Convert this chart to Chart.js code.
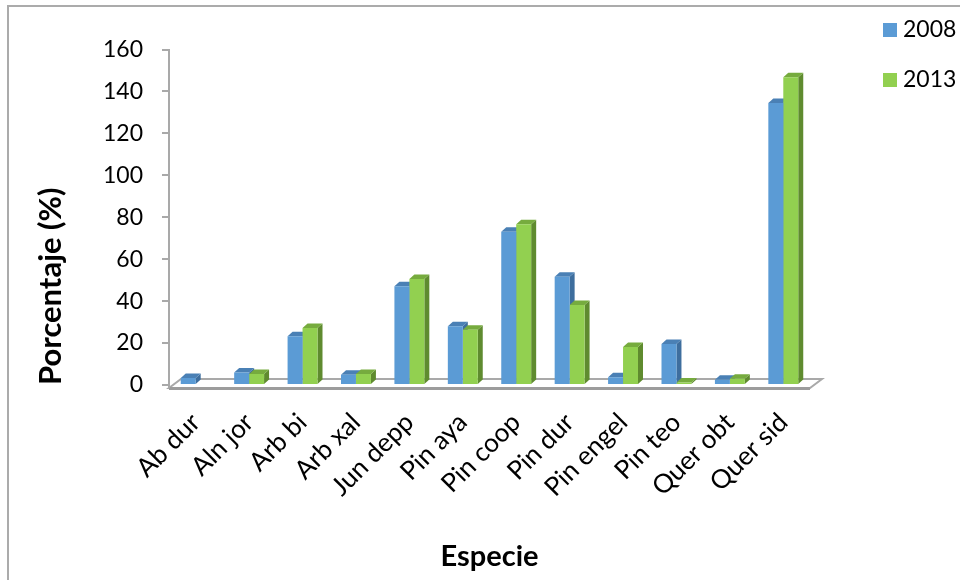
<!DOCTYPE html>
<html>
<head>
<meta charset="utf-8">
<script src="https://cdn.jsdelivr.net/npm/chart.js@4.4.1/dist/chart.umd.min.js"></script>
<style>
  html, body { margin: 0; padding: 0; background: #fff; overflow: hidden; width: 960px; height: 580px; }
  #frame { position: absolute; left: 7px; top: 5px; width: 990px; height: 590px; border: 2px solid #ababab; background: #fff; }
  canvas { display: block; }
</style>
</head>
<body>
<div id="frame"><canvas id="chart" width="990" height="590"></canvas></div>
<script>
// Species and their percentage per survey year
const categories = ['Ab dur', 'Aln jor', 'Arb bi', 'Arb xal', 'Jun depp', 'Pin aya', 'Pin coop', 'Pin dur', 'Pin engel', 'Pin teo', 'Quer obt', 'Quer sid'];
const seriesNames = ['2008', '2013'];
const values2008 = [3.3, 6.0, 23.2, 4.9, 47.1, 28.0, 73.1, 51.6, 3.7, 19.5, 2.5, 134.5];
const values2013 = [0, 5.2, 27.2, 5.2, 50.6, 26.4, 76.7, 38.2, 18.1, 1.2, 3.0, 146.8];
const yMin = 0;
const yMax = 160;
const yStep = 20;

const FONT = 'Lato, "Open Sans", sans-serif';

// Floor slab and bar depth faces, painted underneath the bar fronts
const depthPlugin = {
  id: 'depthFaces',
  beforeDatasetsDraw(chart, args, o) {
    const { ctx, chartArea: a } = chart;
    const front = a.bottom + o.floorFront;
    const back = front - o.floorDy;
    ctx.save();
    ctx.lineJoin = 'miter';
    ctx.beginPath();
    ctx.moveTo(a.left, front);
    ctx.lineTo(a.right, front);
    ctx.lineTo(a.right + o.floorDx, back);
    ctx.lineTo(a.left + o.floorDx, back);
    ctx.closePath();
    ctx.fillStyle = '#ffffff';
    ctx.fill();
    ctx.strokeStyle = '#a9a9a9';
    ctx.lineWidth = 2;
    ctx.stroke();
    // heavier front edge of the floor
    ctx.beginPath();
    ctx.moveTo(a.left, front + 0.5);
    ctx.lineTo(a.right, front + 0.5);
    ctx.lineWidth = 3;
    ctx.strokeStyle = '#9c9c9c';
    ctx.stroke();
    // value axis runs down to the floor front
    ctx.beginPath();
    ctx.moveTo(a.left, a.bottom);
    ctx.lineTo(a.left, front);
    ctx.lineWidth = 2;
    ctx.strokeStyle = '#a9a9a9';
    ctx.stroke();

    chart.data.datasets.forEach((ds, i) => {
      const meta = chart.getDatasetMeta(i);
      meta.data.forEach((bar, j) => {
        if (!ds.data[j]) return;
        const p = bar.getProps(['x', 'y', 'base', 'width'], true);
        const l = p.x - p.width / 2;
        const r = p.x + p.width / 2;
        ctx.fillStyle = ds.sideColor;
        ctx.beginPath();
        ctx.moveTo(r, p.y);
        ctx.lineTo(r + o.dx, p.y - o.dy);
        ctx.lineTo(r + o.dx, p.base - o.dy);
        ctx.lineTo(r, p.base);
        ctx.closePath();
        ctx.fill();
        ctx.fillStyle = ds.topColor;
        ctx.beginPath();
        ctx.moveTo(l, p.y);
        ctx.lineTo(l + o.dx, p.y - o.dy);
        ctx.lineTo(r + o.dx, p.y - o.dy);
        ctx.lineTo(r, p.y);
        ctx.closePath();
        ctx.fill();
      });
    });
    ctx.restore();
  }
};

// Series key in the upper right corner
const keyPlugin = {
  id: 'seriesKey',
  afterDraw(chart, args, o) {
    const ctx = chart.ctx;
    ctx.save();
    chart.data.datasets.forEach((ds, i) => {
      const cy = o.top + i * o.step;
      ctx.fillStyle = ds.backgroundColor;
      ctx.fillRect(o.left, cy - o.box / 2, o.box, o.box);
      ctx.fillStyle = '#000';
      ctx.font = o.fontSize + 'px ' + FONT;
      ctx.textBaseline = 'middle';
      ctx.textAlign = 'left';
      ctx.fillText(ds.label, o.left + o.box + o.gap, cy);
    });
    ctx.restore();
  }
};

new Chart(document.getElementById('chart'), {
  type: 'bar',
  data: {
    labels: categories,
    datasets: [
      { label: seriesNames[0], data: values2008, backgroundColor: '#5b9bd5', sideColor: '#3e6e9e', topColor: '#4a80b5' },
      { label: seriesNames[1], data: values2013, backgroundColor: '#92d050', sideColor: '#5f8b2f', topColor: '#76ab3e' }
    ]
  },
  options: {
    responsive: false,
    animation: false,
    events: [],
    layout: { padding: { top: 42.5, right: 189, bottom: 0, left: 0 } },
    datasets: { bar: { categoryPercentage: 0.56, barPercentage: 1.0, borderWidth: 0 } },
    scales: {
      x: {
        afterFit(scale) { scale.height = 212; },
        grid: { display: false, drawTicks: false },
        border: { display: false },
        ticks: { minRotation: 45, maxRotation: 45, autoSkip: false, padding: 22, color: '#000', font: { family: FONT, size: 26 } },
        title: { display: true, text: 'Especie', color: '#000', padding: { top: 0, bottom: 22.6 }, font: { family: FONT, size: 29, weight: 'bold' } }
      },
      y: {
        min: yMin,
        max: yMax,
        afterFit(scale) { scale.width = 160; },
        grid: { display: true, drawOnChartArea: false, drawTicks: true, tickLength: 7, color: '#a9a9a9', lineWidth: 2 },
        border: { display: true, color: '#a9a9a9', width: 2 },
        ticks: { stepSize: yStep, padding: 19, color: '#000', font: { family: FONT, size: 23 } },
        title: { display: true, text: 'Porcentaje (%)', align: 'start', color: '#000', padding: { top: 23, bottom: 0 }, font: { family: FONT, size: 31, weight: 'bold' } }
      }
    },
    plugins: {
      legend: { display: false },
      tooltip: { enabled: false },
      depthFaces: { dx: 5, dy: 4.5, floorDx: 12, floorDy: 9, floorFront: 3 },
      seriesKey: { left: 874, top: 23, step: 50, box: 14, gap: 6, fontSize: 23 }
    }
  },
  plugins: [depthPlugin, keyPlugin]
});
</script>
</body>
</html>
